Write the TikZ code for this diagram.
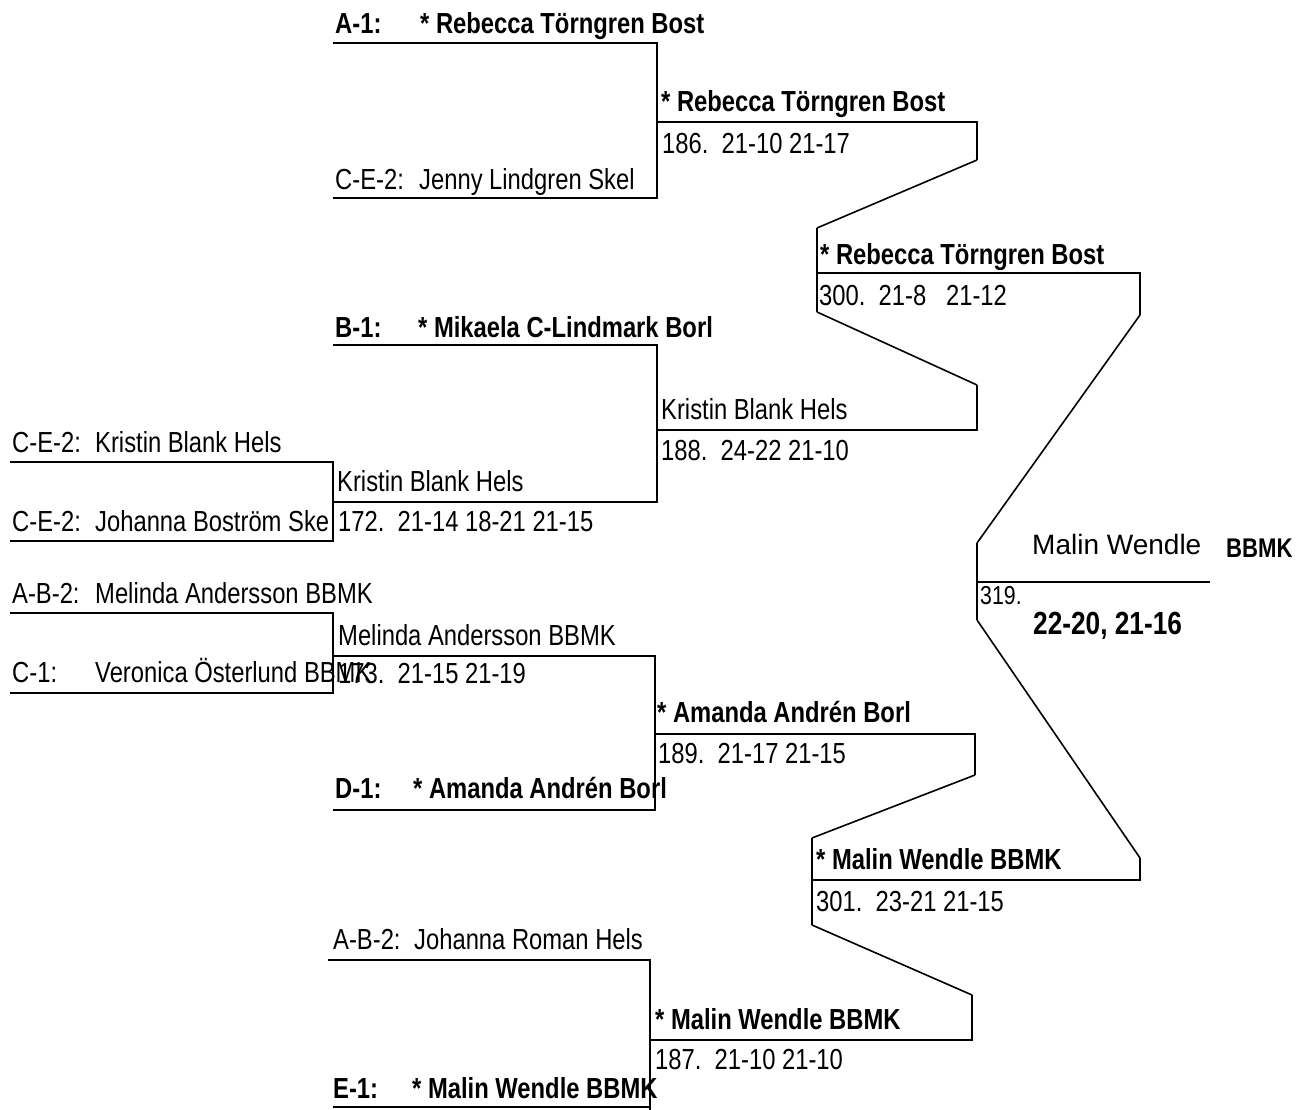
\documentclass[tikz,border=0pt]{standalone}
\usepackage{fontspec}
\setmainfont{Liberation Sans}[FakeStretch=0.82]
\newfontfamily\widefont{Liberation Sans}
\begin{document}
\begin{tikzpicture}[x=1pt,y=-1pt,
  br/.style={line width=2.4pt,line join=miter},
  dg/.style={line width=1.6pt},
  t/.style={anchor=base west,inner sep=0pt,font=\fontsize{29}{31}\selectfont},
  tb/.style={t,font=\fontsize{29}{31}\selectfont\bfseries}]
\useasboundingbox (0,0) rectangle (1309,1110);
% ---------- named corner coordinates ----------
\coordinate (a1l) at (333,43);   \coordinate (a1r) at (657,43);
\coordinate (c2l) at (333,198);  \coordinate (c2r) at (657,198);
\coordinate (w186l) at (657,122); \coordinate (w186r) at (977,122);
\coordinate (w186d) at (977,160);
\coordinate (m300t) at (817,228); \coordinate (m300b) at (817,312);
\coordinate (w188u) at (977,385);
\coordinate (w300l) at (817,273); \coordinate (w300r) at (1140,273);
\coordinate (w300d) at (1140,315);
\coordinate (fint) at (977,543); \coordinate (finb) at (977,620);
\coordinate (finl) at (977,582); \coordinate (finr) at (1210,582);
\coordinate (w301u) at (1140,858);
\coordinate (w301r) at (1140,880); \coordinate (w301l) at (812,880);
\coordinate (b1l) at (333,345); \coordinate (b1r) at (657,345);
\coordinate (w172l) at (333,502); \coordinate (w172r) at (657,502);
\coordinate (w188l) at (657,430); \coordinate (w188r) at (977,430);
\coordinate (k1l) at (10,462); \coordinate (k1r) at (333,462);
\coordinate (k2l) at (10,541); \coordinate (k2r) at (333,541);
\coordinate (m1l) at (10,613); \coordinate (m1r) at (333,613);
\coordinate (m2l) at (10,693); \coordinate (m2r) at (333,693);
\coordinate (w173l) at (333,656); \coordinate (w173r) at (655,656);
\coordinate (d1l) at (333,810); \coordinate (d1r) at (655,810);
\coordinate (w189l) at (655,734); \coordinate (w189r) at (975,734);
\coordinate (w189d) at (975,775);
\coordinate (m301t) at (812,838); \coordinate (m301b) at (812,925);
\coordinate (w187u) at (972,995);
\coordinate (w187l) at (650,1040); \coordinate (w187r) at (972,1040);
\coordinate (jrl) at (328,960); \coordinate (jrr) at (650,960);
\coordinate (e1l) at (333,1107); \coordinate (e1r) at (650,1107);
\coordinate (e1b) at (650,1110);
% ---------- bracket lines ----------
\draw[br] (a1l) -- (a1r) -- (c2r) -- (c2l);
\draw[br] (w186l) -- (w186r) -- (w186d);
\draw[dg] (w186d) -- (m300t);
\draw[br] (m300t) -- (m300b);
\draw[dg] (m300b) -- (w188u);
\draw[br] (w188u) -- (w188r) -- (w188l);
\draw[br] (w300l) -- (w300r) -- (w300d);
\draw[dg] (w300d) -- (fint);
\draw[br] (fint) -- (finb);
\draw[dg] (finb) -- (w301u);
\draw[br] (w301u) -- (w301r) -- (w301l);
\draw[br] (finl) -- (finr);
\draw[br] (b1l) -- (b1r) -- (w172r) -- (w172l);
\draw[br] (k1l) -- (k1r) -- (k2r) -- (k2l);
\draw[br] (m1l) -- (m1r) -- (m2r) -- (m2l);
\draw[br] (w173l) -- (w173r) -- (d1r) -- (d1l);
\draw[br] (w189l) -- (w189r) -- (w189d);
\draw[dg] (w189d) -- (m301t);
\draw[br] (m301t) -- (m301b);
\draw[dg] (m301b) -- (w187u);
\draw[br] (w187u) -- (w187r) -- (w187l);
\draw[br] (jrl) -- (jrr) -- (e1b);
\draw[br] (e1l) -- (e1r);
% ---------- texts ----------
\node[tb] (la1) at (335,34) {A-1:};
\node[tb] (na1) at (420,34) {* Rebecca Törngren Bost};
\node[tb] (n186) at (661,112) {* Rebecca Törngren Bost};
\node[t] (s186) at (662,154) {186.\ \ 21-10 21-17};
\node[t] (lc2) at (335,190) {C-E-2:};
\node[t] (nc2) at (419,190) {Jenny Lindgren Skel};
\node[tb] (n300) at (820,264) {* Rebecca Törngren Bost};
\node[t] (s300) at (819,305) {300.\ \ 21-8\ \ \ 21-12};
\node[tb] (lb1) at (335,337) {B-1:};
\node[tb] (nb1) at (418,337) {* Mikaela C-Lindmark Borl};
\node[t] (n188) at (661,419) {Kristin Blank Hels};
\node[t] (s188) at (661,460) {188.\ \ 24-22 21-10};
\node[t] (lk1) at (12,452) {C-E-2:};
\node[t] (nk1) at (95,452) {Kristin Blank Hels};
\node[t] (n172) at (337,491) {Kristin Blank Hels};
\node[t] (lk2) at (12,531) {C-E-2:};
\node[t] (nk2) at (95,531) {Johanna Boström Ske};
\node[t] (s172) at (338,531) {172.\ \ 21-14 18-21 21-15};
\node[t] (lm1) at (12,603) {A-B-2:};
\node[t] (nm1) at (95,603) {Melinda Andersson BBMK};
\node[t] (n173) at (338,645) {Melinda Andersson BBMK};
\node[t] (lm2) at (12,682) {C-1:};
\node[t] (nm2) at (95,682) {Veronica Österlund BBMK};
\node[t] (s173) at (338,683) {173.\ \ 21-15 21-19};
\node[tb] (n189) at (657,722) {* Amanda Andrén Borl};
\node[t] (s189) at (658,763) {189.\ \ 21-17 21-15};
\node[tb] (ld1) at (335,798) {D-1:};
\node[tb] (nd1) at (413,798) {* Amanda Andrén Borl};
\node[tb] (n301) at (816,869) {* Malin Wendle BBMK};
\node[t] (s301) at (816,911) {301.\ \ 23-21 21-15};
\node[t] (ljr) at (333,949) {A-B-2:};
\node[t] (njr) at (414,949) {Johanna Roman Hels};
\node[tb] (n187) at (655,1029) {* Malin Wendle BBMK};
\node[t] (s187) at (655,1069) {187.\ \ 21-10 21-10};
\node[tb] (le1) at (333,1098) {E-1:};
\node[tb] (ne1) at (412,1098) {* Malin Wendle BBMK};
% final
\node[anchor=base west,inner sep=0pt,font=\widefont\fontsize{28}{30}\selectfont] (nfin) at (1032,554) {Malin Wendle};
\node[anchor=base west,inner sep=0pt,font=\fontsize{27}{29}\selectfont\bfseries] (cfin) at (1226,557) {BBMK};
\node[anchor=base west,inner sep=0pt,font=\fontsize{26}{28}\selectfont] (s319) at (980,604) {319.};
\node[anchor=base west,inner sep=0pt,font=\fontsize{32}{34}\selectfont\bfseries] (sfin) at (1033,634) {22-20, 21-16};
\end{tikzpicture}
\end{document}
